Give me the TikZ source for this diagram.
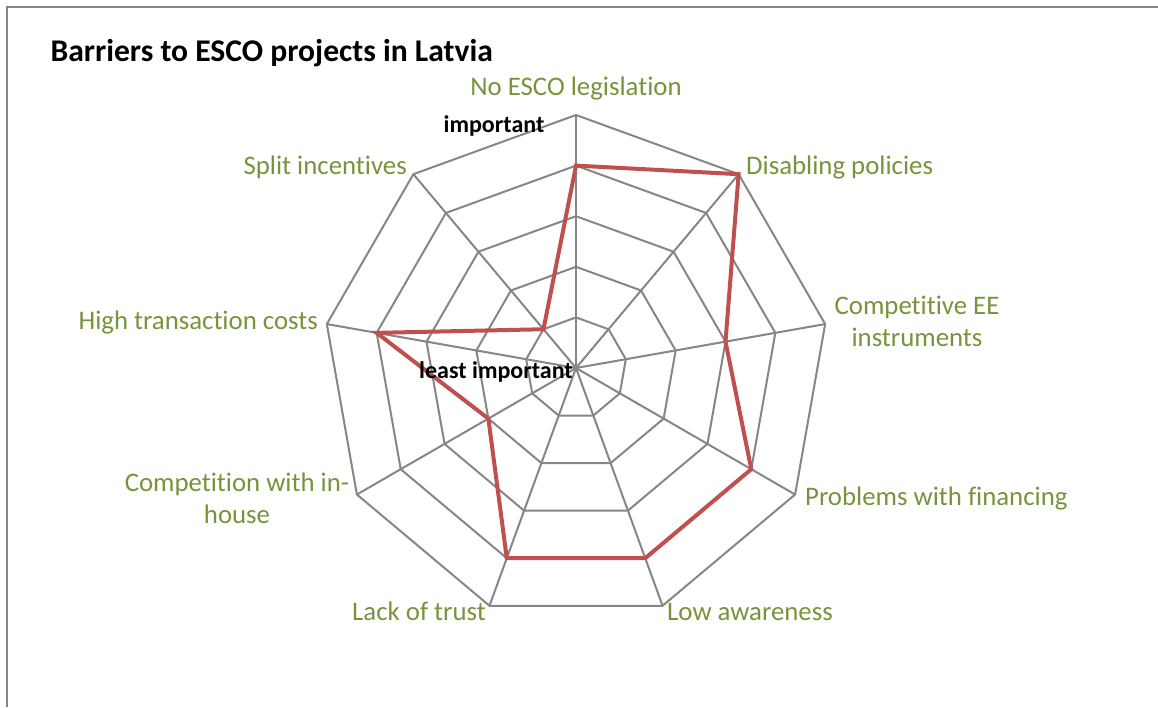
\documentclass[tikz,border=0pt]{standalone}
\usepackage{fontspec}
\setmainfont{Carlito}[Ligatures=NoCommon]
\usetikzlibrary{calc,positioning}

\definecolor{gridgray}{HTML}{868686}
\definecolor{seriesred}{HTML}{C0504D}
\definecolor{labelgreen}{HTML}{77933C}

\begin{document}
\begin{tikzpicture}[
    x=1pt,y=1pt,
    gridline/.style={draw=gridgray,line width=2pt},
    seriesline/.style={draw=seriesred,line width=4pt},
    axislabel/.style={text=labelgreen,font=\fontsize{26.8}{32}\selectfont,inner sep=0pt,align=center},
    hintlabel/.style={font=\bfseries\fontsize{24}{26}\selectfont,inner sep=0pt},
  ]

  \useasboundingbox (0,0) rectangle (1158,-707);

  % chart frame
  \draw[gridgray,line width=1.2pt] (7,-707) -- (7,-7) -- (1158,-7);

  \node (title) at (47,-61) [anchor=base west,font=\bfseries\fontsize{31.6}{36}\selectfont] {Barriers to ESCO projects in Latvia};

  % spokes and rings

  \coordinate (c) at (576,-368);

  \foreach \i in {0,...,8}
    \coordinate (v\i) at ($(c)+(90-40*\i:253)$);

  \foreach \r in {1,...,5}
    \draw[gridline] ($(c)+(90:\r*50.6)$)
      \foreach \i in {1,...,8} { -- ($(c)+(90-40*\i:\r*50.6)$) } -- cycle;

  \foreach \i in {0,...,8}
    \draw[gridline] (c) -- (v\i);

  % series

  \foreach \val [count=\i from 0] in {4,5,3,4,4,4,2,4,1}
    \coordinate (d\i) at ($(c)+(90-40*\i:\val*50.6)$);

  \draw[seriesline] (d0) -- (d1) -- (d2) -- (d3) -- (d4) -- (d5) -- (d6) -- (d7) -- (d8) -- cycle;

  % axis labels

  \node (l0) at (576,-95) [axislabel,anchor=base] {No ESCO legislation};
  \node (l1) at (746,-174) [axislabel,anchor=base west] {Disabling policies};
  \node (l2) at (917,-296) [axislabel,anchor=north] {Competitive EE\\instruments};
  \node (l3) at (805,-505) [axislabel,anchor=base west] {Problems with financing};
  \node (l4) at (667,-620) [axislabel,anchor=base west] {Low awareness};
  \node (l5) at (486,-620) [axislabel,anchor=base east] {Lack of trust};
  \node (l6) at (237,-473) [axislabel,anchor=north] {Competition with in-\\house};
  \node (l7) at (318,-329) [axislabel,anchor=base east] {High transaction costs};
  \node (l8) at (407,-174) [axislabel,anchor=base east] {Split incentives};

  % scale hints

  \node (top) at (494,-132) [hintlabel,anchor=base] {important};
  \node (low) at (496,-378) [hintlabel,anchor=base] {least important};

\end{tikzpicture}
\end{document}
